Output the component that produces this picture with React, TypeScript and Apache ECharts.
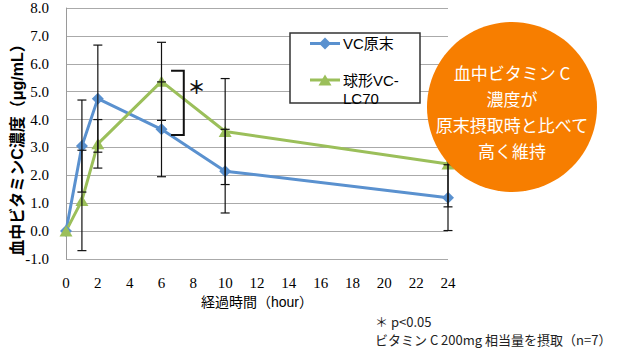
import React, { useEffect, useRef } from "react";
import * as echarts from "echarts";

const hours = [0, 1, 2, 6, 10, 24];
const vcPowder = [0.0, 3.05, 4.75, 3.65, 2.15, 1.2];
const vcPowderErr = [0, 1.65, 1.92, 1.7, 1.5, 1.18];
const lc70 = [0.0, 1.1, 3.13, 5.37, 3.57, 2.41];
const lc70Err = [0, 1.8, 0.87, 1.4, 1.9, 1.54];
const seriesNames = ["VC原末", "球形VC-LC70"];
const legendLabels = ["VC原末", "球形VC-\nLC70"];
const yTitle = "血中ビタミンC濃度（μg/mL）";
const xTitle = "経過時間（hour）";
const calloutText = "血中ビタミン C\n濃度が\n原末摂取時と比べて\n高く維持";
const noteLines = ["＊ p<0.05", "ビタミン C 200mg 相当量を摂取（n=7）"];

// significance bracket (data coords)
const SIG_X = [6.6, 7.4];
const SIG_Y = [5.75, 3.45];
const SIG_STAR = [8.2, 5.2];

const BLUE = "#5A91CF";
const GREEN = "#9BBF5A";
const ORANGE = "#F77E00";
const SERIF = "Liberation Serif";
const SANS = "Liberation Sans, Noto Sans CJK JP, sans-serif";
const CJK = "Noto Sans CJK JP, sans-serif";

function errSeries(name: string, vals: number[], errs: number[]) {
  return {
    type: "custom",
    name: name + "-err",
    z: 3,
    silent: true,
    data: hours.map((h, i) => [h, vals[i], errs[i]]),
    encode: { x: 0, y: 1 },
    renderItem: (_p: any, api: any) => {
      const x = api.value(0);
      const y = api.value(1);
      const e = api.value(2);
      if (!e) return { type: "group", children: [] };
      const t = api.coord([x, y + e]);
      const b = api.coord([x, y - e]);
      const hw = 4.5;
      const st = { stroke: "#111", lineWidth: 1.2 };
      return {
        type: "group",
        children: [
          { type: "line", shape: { x1: t[0], y1: t[1], x2: b[0], y2: b[1] }, style: st },
          { type: "line", shape: { x1: t[0] - hw, y1: t[1], x2: t[0] + hw, y2: t[1] }, style: st },
          { type: "line", shape: { x1: b[0] - hw, y1: b[1], x2: b[0] + hw, y2: b[1] }, style: st },
        ],
      };
    },
  };
}

export default function App() {
  const ref = useRef<HTMLDivElement>(null);
  useEffect(() => {
    if (!ref.current) return;
    const chart = echarts.init(ref.current, undefined, { renderer: "svg" });
    const option: any = {
      animation: false,
      grid: { left: 66, right: 172, top: 8, bottom: 95 },
      xAxis: {
        type: "value",
        min: 0,
        max: 24,
        interval: 2,
        axisLine: { show: false, onZero: false },
        axisTick: { show: false },
        splitLine: { show: false },
        axisLabel: { margin: 16, fontFamily: SERIF, fontSize: 15, color: "#000" },
        name: xTitle,
        nameLocation: "middle",
        nameGap: 32,
        nameTextStyle: { fontFamily: SANS, fontSize: 14, color: "#000" },
      },
      yAxis: {
        type: "value",
        min: -1,
        max: 8,
        interval: 1,
        axisLine: { show: true, lineStyle: { color: "#9a9a9a", width: 1 } },
        axisTick: { show: false },
        splitLine: { show: true, lineStyle: { color: "#aaaaaa", width: 1 } },
        axisLabel: {
          margin: 17,
          fontFamily: SERIF,
          fontSize: 15,
          color: "#000",
          formatter: (v: number) => v.toFixed(1),
        },
      },
      series: [
        {
          type: "line",
          name: seriesNames[0],
          data: hours.map((h, i) => [h, vcPowder[i]]),
          symbol: "diamond",
          symbolSize: 12,
          lineStyle: { color: BLUE, width: 3 },
          itemStyle: { color: BLUE },
          z: 2,
        },
        {
          type: "line",
          name: seriesNames[1],
          data: hours.map((h, i) => [h, lc70[i]]),
          symbol: "triangle",
          symbolSize: [13, 11],
          lineStyle: { color: GREEN, width: 3 },
          itemStyle: { color: GREEN },
          z: 2,
        },
        errSeries(seriesNames[0], vcPowder, vcPowderErr),
        errSeries(seriesNames[1], lc70, lc70Err),
      ],
    };
    chart.setOption(option);

    const px = (p: number[]) => chart.convertToPixel({ gridIndex: 0 }, p) as number[];
    const bTop = px([SIG_X[1], SIG_Y[0]]);
    const bBot = px([SIG_X[1], SIG_Y[1]]);
    const bL = px([SIG_X[0], SIG_Y[0]]);
    const star = px(SIG_STAR);

    const graphic: any[] = [
      {
        type: "polyline",
        z: 50,
        shape: {
          points: [
            [bL[0], bTop[1]],
            [bTop[0], bTop[1]],
            [bBot[0], bBot[1]],
            [bL[0], bBot[1]],
          ],
        },
        style: { stroke: "#111", lineWidth: 2, fill: null },
      },
      {
        type: "text",
        z: 50,
        x: star[0],
        y: star[1],
        style: {
          text: "＊",
          font: `bold 18px ${CJK}`,
          fill: "#111",
          align: "center",
          verticalAlign: "middle",
        },
      },
      {
        type: "group",
        z: 60,
        children: [
          {
            type: "rect",
            shape: { x: 290, y: 33, width: 130, height: 70 },
            style: { fill: "#fff", stroke: "#333", lineWidth: 1.5 },
          },
          { type: "line", shape: { x1: 310, y1: 43.5, x2: 340, y2: 43.5 }, style: { stroke: BLUE, lineWidth: 3 } },
          {
            type: "polygon",
            shape: { points: [[325, 37.5], [331, 43.5], [325, 49.5], [319, 43.5]] },
            style: { fill: BLUE },
          },
          {
            type: "text",
            x: 343,
            y: 43.5,
            style: { text: legendLabels[0], font: `15px ${SANS}`, fill: "#000", verticalAlign: "middle" },
          },
          { type: "line", shape: { x1: 310, y1: 80, x2: 340, y2: 80 }, style: { stroke: GREEN, lineWidth: 3 } },
          {
            type: "polygon",
            shape: { points: [[325, 74.5], [331.5, 85.5], [318.5, 85.5]] },
            style: { fill: GREEN },
          },
          {
            type: "text",
            x: 343,
            y: 71,
            style: {
              text: legendLabels[1],
              font: `15px ${SANS}`,
              fill: "#000",
              verticalAlign: "top",
              lineHeight: 18,
            },
          },
        ],
      },
      {
        type: "text",
        z: 50,
        x: 17.5,
        y: 146,
        rotation: Math.PI / 2,
        style: {
          text: yTitle,
          font: `bold 16px ${SANS}`,
          fill: "#000",
          align: "center",
          verticalAlign: "middle",
        },
      },
      {
        type: "circle",
        z: 80,
        shape: { cx: 512, cy: 107, r: 85 },
        style: { fill: ORANGE },
      },
      {
        type: "text",
        z: 81,
        x: 512,
        y: 111,
        style: {
          text: calloutText,
          font: `17px ${CJK}`,
          fill: "#fff",
          align: "center",
          verticalAlign: "middle",
          lineHeight: 26,
        },
      },
      {
        type: "text",
        z: 50,
        x: 375,
        y: 321,
        style: { text: noteLines[0], font: `13px ${CJK}`, fill: "#222", verticalAlign: "middle", lineHeight: 15 },
      },
      {
        type: "text",
        z: 50,
        x: 375,
        y: 339,
        style: { text: noteLines[1], font: `13px ${CJK}`, fill: "#222", verticalAlign: "middle", lineHeight: 15 },
      },
    ];
    chart.setOption({ graphic });
    return () => chart.dispose();
  }, []);
  return (
    <div
      ref={ref}
      style={{ position: "fixed", left: 0, top: 0, width: 620, height: 354, background: "#fff" }}
    />
  );
}
